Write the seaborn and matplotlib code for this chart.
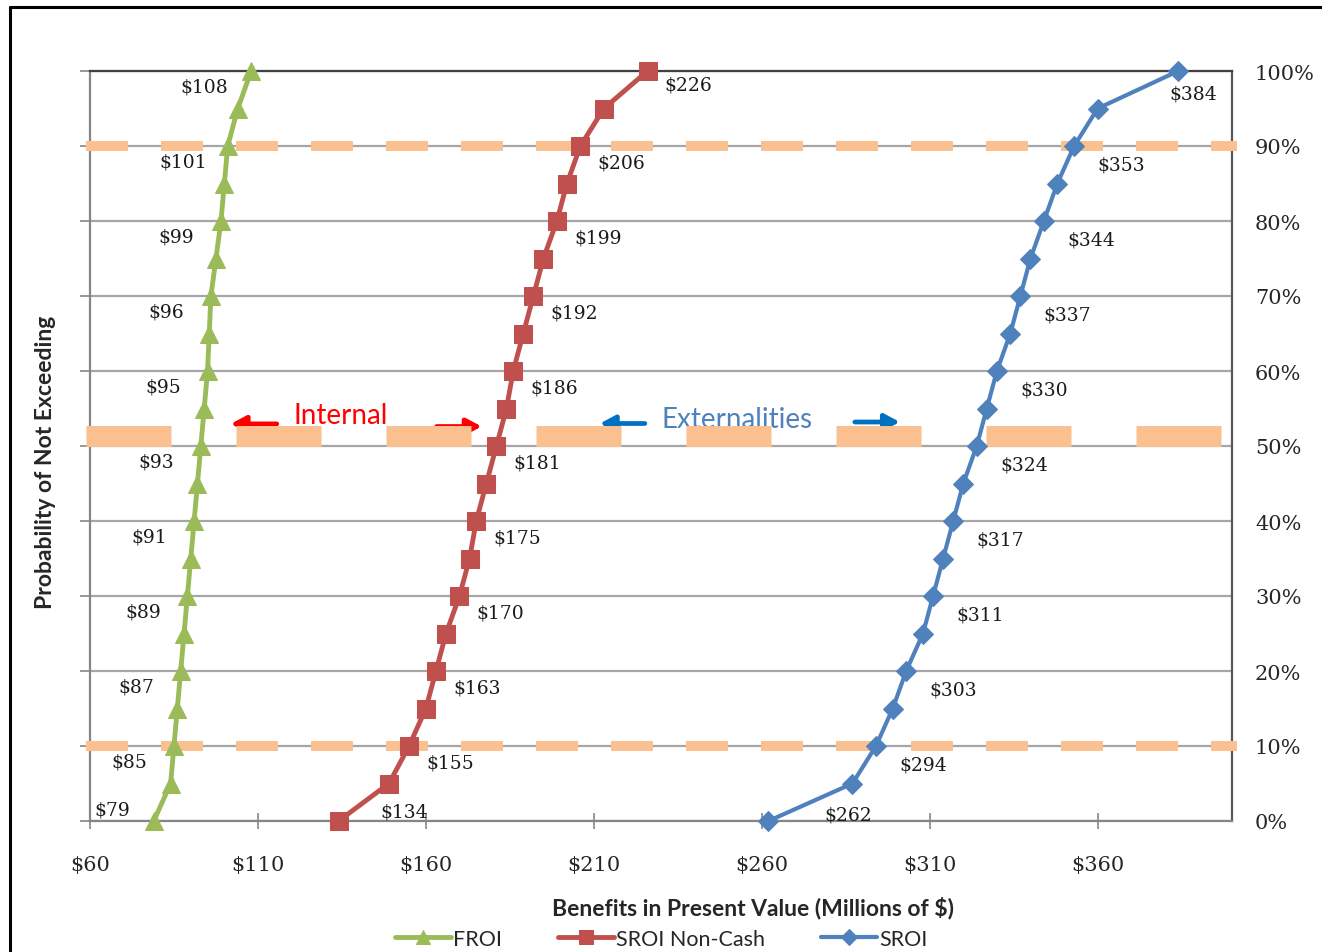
import matplotlib
matplotlib.use("Agg")
import matplotlib.pyplot as plt
import pandas as pd
import seaborn as sns
from matplotlib.lines import Line2D


prob = list(range(0, 101, 5))
froi = [79, 84, 85, 86, 87, 88, 89, 90, 91, 92, 93, 94, 95, 95.5, 96, 97.5, 99, 100, 101, 104, 108]
sroi_noncash = [134, 149, 155, 160, 163, 166, 170, 173, 175, 178, 181, 184, 186, 189, 192, 195, 199, 202, 206, 213, 226]
sroi = [262, 287, 294, 299, 303, 308, 311, 314, 317, 320, 324, 327, 330, 334, 337, 340, 344, 348, 353, 360, 384]

series_names = ["FROI", "SROI Non-Cash", "SROI"]
x_ticks = [60, 110, 160, 210, 260, 310, 360]
y_ticks = list(range(0, 101, 10))
threshold_lines = [10, 90]
band_line = 51.3

sns.set_theme(style="white")
plt.rcParams["lines.scale_dashes"] = False
num_font = "DejaVu Serif"
txt_font = "Lato"

fig = plt.figure(figsize=(13.22, 9.53), dpi=100)
ax = fig.add_axes([90 / 1322, 1 - 822 / 953, 1142 / 1322, 750 / 953])

df = pd.DataFrame({
    "prob": prob * 3,
    "value": froi + sroi_noncash + sroi,
    "series": [s for s in series_names for _ in prob],
})

styles = {
    "FROI": dict(color="#9BBB59", marker="^", ms=13, lw=3.5),
    "SROI Non-Cash": dict(color="#C0504D", marker="s", ms=13, lw=3.5),
    "SROI": dict(color="#4F81BD", marker="D", ms=10, lw=3),
}
# label offsets in points: (default, first point, last point)
label_offsets = {
    "FROI": [(-32, -11.5), (-30, 8.5), (-34, -11)],
    "SROI Non-Cash": [(29.5, -12), (47, 6.5), (29, -9.5)],
    "SROI": [(34, -13), (57.5, 5), (11, -16.5)],
}

for name in series_names:
    sub = df[df["series"] == name]
    st = styles[name]
    sns.lineplot(data=sub, x="value", y="prob", ax=ax, sort=False, estimator=None,
                 color=st["color"], marker=st["marker"], markersize=st["ms"],
                 markeredgecolor=st["color"], linewidth=st["lw"], label=name,
                 zorder=4, clip_on=False)
    offs = label_offsets[name]
    vals = sub["value"].tolist()
    ps = sub["prob"].tolist()
    for i in range(0, len(vals), 2):
        off = offs[1] if i == 0 else (offs[2] if i == len(vals) - 1 else offs[0])
        ax.annotate(f"${vals[i]:.0f}", (vals[i], ps[i]), xytext=off, textcoords="offset points",
                    ha="center", va="center", fontsize=13.5, family=num_font, color="#1a1a1a", zorder=5)

# orange reference lines
for yv in threshold_lines:
    ax.axhline(yv, xmin=-4 / 1142, xmax=1 + 5 / 1142, color="#FAC090", lw=7.2,
               dashes=(30.2, 23.8), dash_capstyle="butt", clip_on=False, zorder=3)
ax.axhline(band_line, xmin=-4 / 1142, xmax=1 + 5 / 1142, color="#FAC090", lw=15.1,
           dashes=(61.2, 46.8), dash_capstyle="butt", clip_on=False, zorder=3)

# region annotations
arrow_kw = dict(arrowstyle="-|>,head_length=0.6,head_width=0.32", lw=3.4,
                mutation_scale=15, shrinkA=0, shrinkB=0)
ax.text(134.6, 54.1, "Internal", color="#FF0000", fontsize=20, family=txt_font,
        ha="center", va="center", zorder=2.5)
ax.annotate("", xy=(101.9, 52.95), xytext=(115.6, 52.95),
            arrowprops=dict(color="#FF0000", **arrow_kw), zorder=2.5)
ax.annotate("", xy=(176.6, 52.6), xytext=(163.2, 52.6),
            arrowprops=dict(color="#FF0000", **arrow_kw), zorder=2.5)
ax.text(252.7, 53.6, "Externalities", color="#4F81BD", fontsize=20, family=txt_font,
        ha="center", va="center", zorder=2.5)
ax.annotate("", xy=(211.8, 53.0), xytext=(225.2, 53.0),
            arrowprops=dict(color="#0070C0", **arrow_kw), zorder=2.5)
ax.annotate("", xy=(301.1, 53.2), xytext=(287.7, 53.2),
            arrowprops=dict(color="#0070C0", **arrow_kw), zorder=2.5)

# axes
ax.set_xlim(60, 400)
ax.set_ylim(0, 100)
ax.set_xticks(x_ticks)
ax.set_xticklabels([f"${t}" for t in x_ticks], family=num_font, fontsize=15)
ax.set_yticks(y_ticks)
ax.set_yticklabels([f"{t}%" for t in y_ticks], family=num_font, fontsize=15)
ax.yaxis.grid(True, color="#A6A6A6", lw=1.6)
ax.xaxis.grid(False)
ax.tick_params(axis="y", left=True, right=False, labelleft=False, labelright=True,
               direction="out", length=7, width=1.2, color="#868686", pad=9.5)
ax.tick_params(axis="x", bottom=True, direction="inout", length=11, width=1.2,
               color="#868686", pad=19)
ax.spines["top"].set_color("#404040")
ax.spines["right"].set_color("#595959")
ax.spines["left"].set_color("#868686")
ax.spines["bottom"].set_color("#868686")
for sp in ax.spines.values():
    sp.set_linewidth(1.6)

ax.set_xlabel("Benefits in Present Value (Millions of $)", family=txt_font,
              fontweight="bold", fontsize=16.5, va="top")
ax.xaxis.set_label_coords(0.5806, -0.099)
ax.set_ylabel("Probability of Not Exceeding", family=txt_font, fontweight="bold",
              fontsize=16.5, va="center")
ax.yaxis.set_label_coords(-0.0394, 0.479)

ax.legend(loc="center", bbox_to_anchor=(0.5, -0.157), ncol=3, frameon=False,
          prop={"family": txt_font, "size": 15.5}, handlelength=2.6,
          columnspacing=2.6, handletextpad=0.1, markerscale=0.8)

# outer frame
fig.add_artist(Line2D([10 / 1322, 1], [1 - 8 / 953] * 2, transform=fig.transFigure,
                      color="black", lw=2.2))
fig.add_artist(Line2D([10 / 1322] * 2, [0, 1 - 8 / 953], transform=fig.transFigure,
                      color="black", lw=2.2))

fig.savefig("out.png", dpi=100)
